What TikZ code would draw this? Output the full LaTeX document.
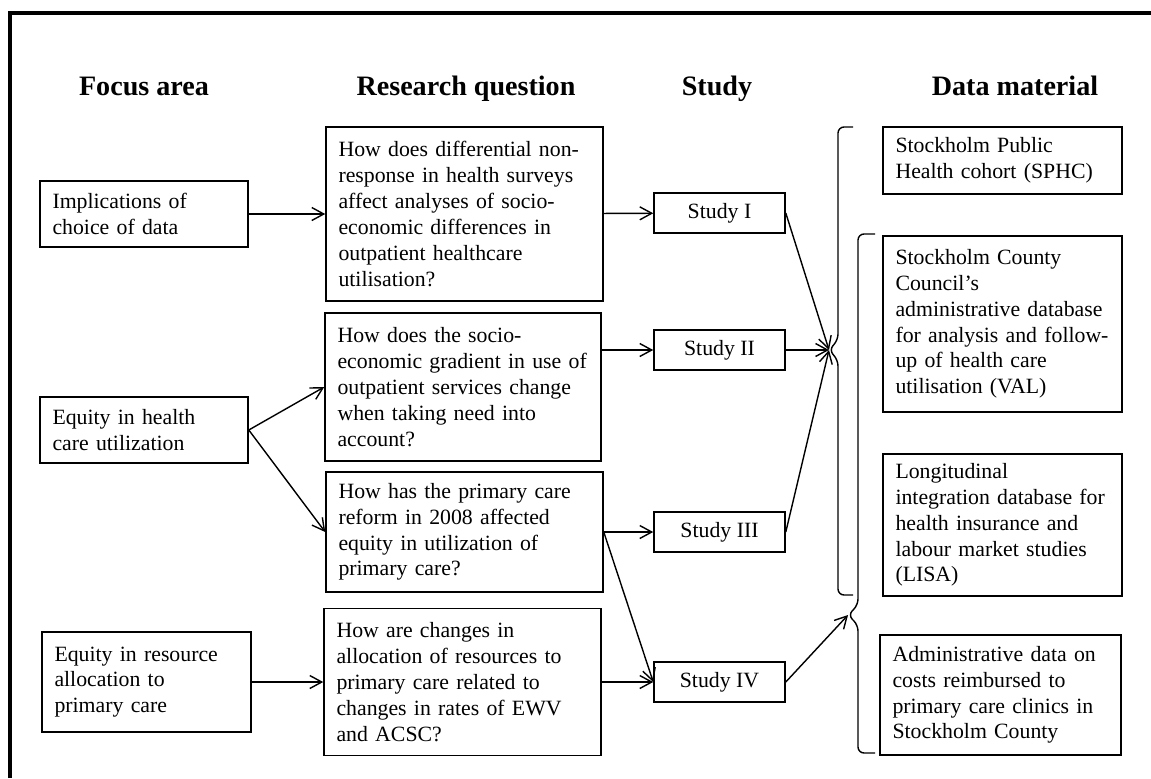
\documentclass[tikz,border=0pt]{standalone}
\usepackage{fontspec}
\setmainfont{Liberation Serif}
\usetikzlibrary{arrows.meta}
\begin{document}
\begin{tikzpicture}[x=0.02cm, y=-0.02cm, >={Straight Barb[length=2.4mm,width=2.6mm]}]
        \tikzset{
            box/.style={draw, line width=0.9pt, align=left, inner xsep=0.25cm, inner ysep=0pt, text width=#1, font=\fontsize{12.4}{14.7}\selectfont},
            studybox/.style={draw, line width=0.9pt, align=center, minimum width=2.62cm, minimum height=0.8cm, inner sep=0pt, font=\fontsize{12.4}{14.7}\selectfont},
            heading/.style={anchor=base, font=\fontsize{16}{19}\selectfont\bfseries},
            arrow/.style={->, line width=0.8pt},
            brace/.style={line width=0.8pt, rounded corners=0.12cm},
            frame/.style={line width=2pt}
        }
        \useasboundingbox (0,0) rectangle (1151,778);
        \draw[frame] (10,778) -- (10,13) -- (1151,13);

        \node[heading] (hfocus) at (144,95) {Focus area};
        \node[heading] (hquestion) at (466,95) {Research question};
        \node[heading] (hstudy) at (717,95) {Study};
        \node[heading] (hdata) at (1015,95) {Data material};

        \node[box=3.66cm, minimum height=1.32cm] (choice) at (144,214) {Implications of\\choice of data};
        \node[box=3.66cm, minimum height=1.32cm] (equity) at (144,430) {Equity in health\\care utilization};
        \node[box=3.68cm, minimum height=2.0cm] (alloc) at (146.5,682) {Equity in resource\\allocation to\\primary care};

        \node[box=5.04cm, minimum height=3.48cm] (qnonresp) at (464.5,214) {How does differential non-\\response in health surveys\\affect analyses of socio-\\economic differences in\\outpatient healthcare\\utilisation?};
        \node[box=5.02cm, minimum height=2.96cm] (qgradient) at (463,387) {How does the socio-\\economic gradient in use of\\outpatient services change\\when taking need into\\account?};
        \node[box=5.04cm, minimum height=2.4cm] (qreform) at (464.5,532) {How has the primary care\\reform in 2008 affected\\equity in utilization of\\primary care?};
        \node[box=5.04cm, minimum height=2.94cm] (qalloc) at (462.5,682) {How are changes in\\allocation of resources to\\primary care related to\\changes in rates of EWV\\and ACSC?};

        \node[studybox] (s1) at (719.5,213) {Study I};
        \node[studybox] (s2) at (719.5,350) {Study II};
        \node[studybox] (s3) at (719.5,532) {Study III};
        \node[studybox] (s4) at (719.5,682) {Study IV};

        \node[box=4.28cm, minimum height=1.34cm] (sphc) at (1002.5,160.5) {Stockholm Public\\Health cohort (SPHC)};
        \node[box=4.28cm, minimum height=3.52cm] (val) at (1002.5,324) {Stockholm County\\Council's\\administrative database\\for analysis and follow-\\up of health care\\utilisation (VAL)};
        \node[box=4.28cm, minimum height=2.84cm] (lisa) at (1002.5,525) {Longitudinal\\integration database for\\health insurance and\\labour market studies\\(LISA)};
        \node[box=4.32cm, minimum height=2.4cm] (costs) at (1000.5,695) {Administrative data on\\costs reimbursed to\\primary care clinics in\\Stockholm County};

        \coordinate (tipA) at (829,350);
        \coordinate (tipB) at (848,615);
        \draw[brace] (853,127) -- (838,127) -- (838,340) -- (tipA) -- (838,360) -- (838,595) -- (853,595);
        \draw[brace] (875,234) -- (858,234) -- (858,605) -- (tipB) -- (858,625) -- (858,753) -- (875,753);

        \draw[arrow] (choice) -- (qnonresp);
        \draw[arrow] (equity.east) -- (qgradient.west);
        \draw[arrow] (equity.east) -- (qreform.west);
        \draw[arrow] (alloc) -- (qalloc);
        \draw[arrow] (qnonresp) -- (s1);
        \draw[arrow] (qgradient.east |- s2) -- (s2);
        \draw[arrow] (qreform) -- (s3);
        \draw[arrow] (qreform.east) -- (s4.west);
        \draw[arrow] (qalloc) -- (s4);
        \draw[arrow] (s1.east) -- (tipA);
        \draw[arrow] (s2.east) -- (tipA);
        \draw[arrow] (s3.east) -- (tipA);
        \draw[arrow] (s4.east) -- (tipB);
    \end{tikzpicture}
\end{document}
